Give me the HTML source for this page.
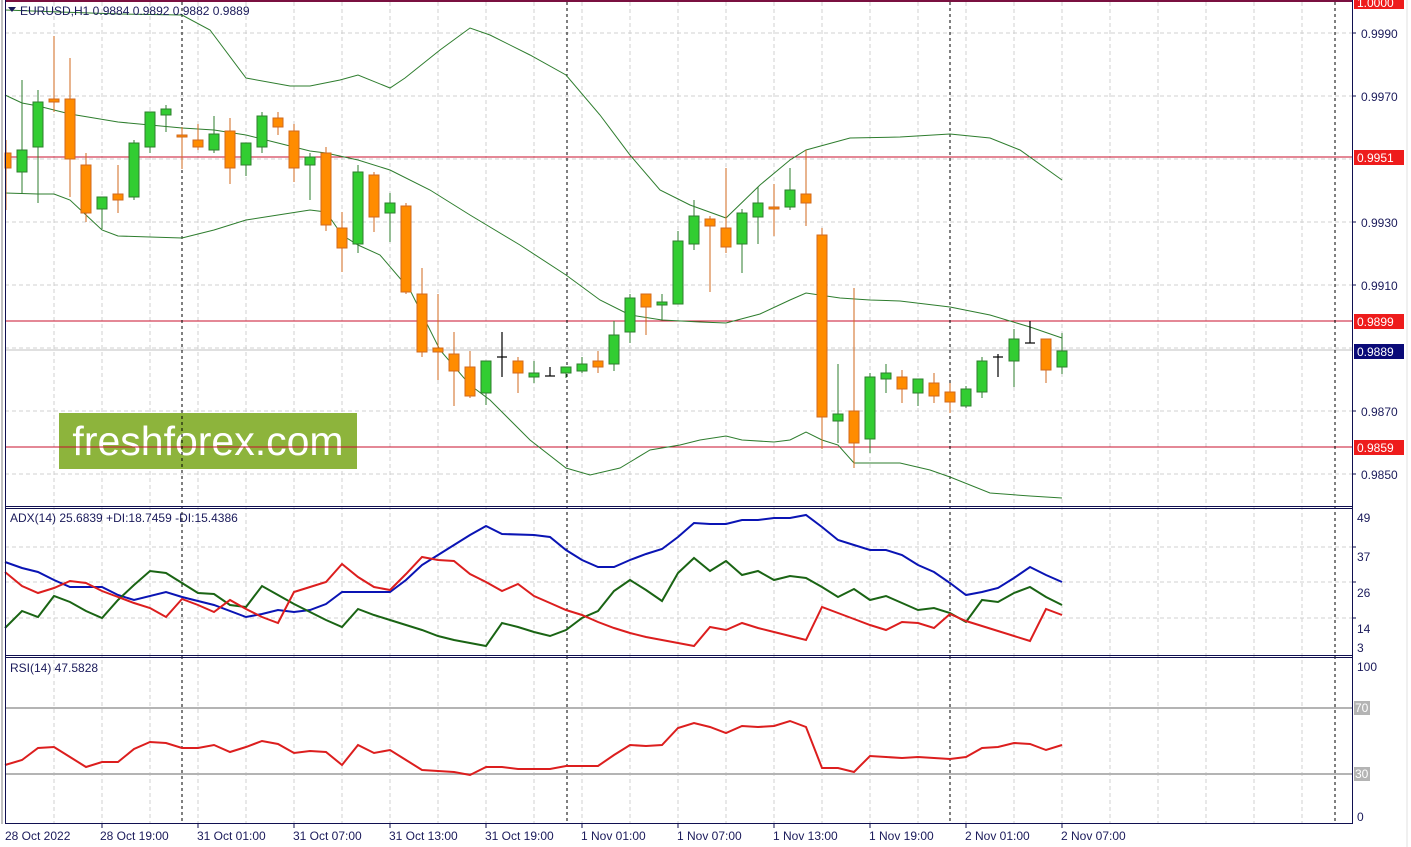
<!DOCTYPE html>
<html><head><meta charset="utf-8"><style>
html,body{margin:0;padding:0;background:#fff;}
svg{display:block;font-family:"Liberation Sans",sans-serif;}
.g line{stroke:#2e7d2e;stroke-width:1}
.g rect{fill:#32cd32;stroke:#2e7d2e;stroke-width:1}
.o line{stroke:#d2691e;stroke-width:1}
.o rect{fill:#ff8c00;stroke:#d2691e;stroke-width:1}
.k line{stroke:#000;stroke-width:1.2}
.ax{fill:#1a1a5a;font-size:12px}
</style></head><body>
<svg width="1411" height="847" viewBox="0 0 1411 847">
<rect width="1411" height="847" fill="#fff"/>
<g stroke="#d0d0d0" stroke-dasharray="4,3" stroke-width="1">
<line x1="5" y1="33" x2="1352" y2="33"/><line x1="5" y1="96" x2="1352" y2="96"/><line x1="5" y1="159" x2="1352" y2="159"/><line x1="5" y1="222" x2="1352" y2="222"/><line x1="5" y1="285" x2="1352" y2="285"/><line x1="5" y1="348" x2="1352" y2="348"/><line x1="5" y1="411" x2="1352" y2="411"/><line x1="5" y1="474" x2="1352" y2="474"/>
<line x1="5" y1="547" x2="1352" y2="547"/><line x1="5" y1="582" x2="1352" y2="582"/><line x1="5" y1="618" x2="1352" y2="618"/>
</g>
<g stroke="#d0d0d0" stroke-dasharray="4,3" stroke-width="1">
<line x1="54" y1="2" x2="54" y2="823"/><line x1="102" y1="2" x2="102" y2="823"/><line x1="150" y1="2" x2="150" y2="823"/><line x1="198" y1="2" x2="198" y2="823"/><line x1="246" y1="2" x2="246" y2="823"/><line x1="294" y1="2" x2="294" y2="823"/><line x1="342" y1="2" x2="342" y2="823"/><line x1="390" y1="2" x2="390" y2="823"/><line x1="438" y1="2" x2="438" y2="823"/><line x1="486" y1="2" x2="486" y2="823"/><line x1="534" y1="2" x2="534" y2="823"/><line x1="582" y1="2" x2="582" y2="823"/><line x1="630" y1="2" x2="630" y2="823"/><line x1="678" y1="2" x2="678" y2="823"/><line x1="726" y1="2" x2="726" y2="823"/><line x1="774" y1="2" x2="774" y2="823"/><line x1="822" y1="2" x2="822" y2="823"/><line x1="870" y1="2" x2="870" y2="823"/><line x1="918" y1="2" x2="918" y2="823"/><line x1="966" y1="2" x2="966" y2="823"/><line x1="1014" y1="2" x2="1014" y2="823"/><line x1="1062" y1="2" x2="1062" y2="823"/><line x1="1110" y1="2" x2="1110" y2="823"/><line x1="1158" y1="2" x2="1158" y2="823"/><line x1="1206" y1="2" x2="1206" y2="823"/><line x1="1254" y1="2" x2="1254" y2="823"/><line x1="1302" y1="2" x2="1302" y2="823"/>
</g>
<rect x="59" y="413" width="298" height="56" fill="#8db43c"/>
<text x="208" y="455" text-anchor="middle" fill="#fff" font-size="41" font-family="'Liberation Sans',sans-serif">freshforex.com</text>
<line x1="5" y1="350" x2="1352" y2="350" stroke="#c0c0c0"/>
<g stroke="#c8102e" stroke-width="1"><line x1="5" y1="157" x2="1352" y2="157"/><line x1="5" y1="321" x2="1352" y2="321"/><line x1="5" y1="447" x2="1352" y2="447"/></g>
<line x1="5" y1="1" x2="1352" y2="1" stroke="#7a1040" stroke-width="2"/>
<g stroke="#000" stroke-dasharray="3,3" stroke-width="1"><line x1="182" y1="2" x2="182" y2="823"/><line x1="567" y1="2" x2="567" y2="823"/><line x1="950" y1="2" x2="950" y2="823"/><line x1="1335" y1="2" x2="1335" y2="823"/></g>
<g fill="none" stroke="#2e7d2e" stroke-width="1">
<polyline points="5,10 60,12 120,14 182,15 210,30 246,78 290,86 310,86 340,80 358,75 390,88 405,78 440,50 470,28 490,35 530,55 566,75 600,115 630,155 660,190 690,205 726,218 760,185 790,160 806,150 850,138 900,137 950,134 990,138 1020,150 1062,180"/>
<polyline points="5,95 22,103 38,106 70,114 118,122 150,125 182,128 214,130 246,135 278,143 310,151 326,153 358,160 390,170 430,190 470,215 520,245 566,275 600,300 630,315 662,320 700,322 726,323 760,314 790,300 806,293 840,298 870,300 900,301 950,307 990,315 1030,327 1062,338"/>
<polyline points="5,193 38,194 54,194 70,200 86,215 102,230 118,236 150,237 182,238 214,230 246,220 278,215 310,210 326,212 342,235 358,245 380,255 410,290 440,350 470,385 490,400 530,440 566,468 590,475 620,468 650,450 680,445 700,440 726,436 742,440 774,442 790,440 806,432 822,440 838,445 854,463 900,463 930,470 950,477 990,493 1030,496 1062,498"/>
</g>
<g class="o">
<line x1="6" y1="140" x2="6" y2="210"/><rect x="5" y="153" width="6" height="15"/>
<line x1="54" y1="36" x2="54" y2="112"/><rect x="49" y="99" width="10" height="3"/>
<line x1="70" y1="58" x2="70" y2="197"/><rect x="65" y="99" width="10" height="60"/>
<line x1="86" y1="153" x2="86" y2="222"/><rect x="81" y="165" width="10" height="48"/>
<line x1="118" y1="165" x2="118" y2="213"/><rect x="113" y="194" width="10" height="6"/>
<line x1="182" y1="127" x2="182" y2="169"/><rect x="177" y="135" width="10" height="2"/>
<line x1="198" y1="124" x2="198" y2="150"/><rect x="193" y="140" width="10" height="7"/>
<line x1="230" y1="118" x2="230" y2="184"/><rect x="225" y="131" width="10" height="37"/>
<line x1="278" y1="112" x2="278" y2="135"/><rect x="273" y="118" width="10" height="9"/>
<line x1="294" y1="124" x2="294" y2="182"/><rect x="289" y="131" width="10" height="37"/>
<line x1="326" y1="147" x2="326" y2="231"/><rect x="321" y="153" width="10" height="72"/>
<line x1="342" y1="212" x2="342" y2="272"/><rect x="337" y="228" width="10" height="20"/>
<line x1="374" y1="172" x2="374" y2="232"/><rect x="369" y="175" width="10" height="42"/>
<line x1="406" y1="203" x2="406" y2="294"/><rect x="401" y="206" width="10" height="86"/>
<line x1="422" y1="268" x2="422" y2="357"/><rect x="417" y="294" width="10" height="58"/>
<line x1="438" y1="294" x2="438" y2="380"/><rect x="433" y="348" width="10" height="4"/>
<line x1="454" y1="332" x2="454" y2="406"/><rect x="449" y="354" width="10" height="17"/>
<line x1="470" y1="351" x2="470" y2="398"/><rect x="465" y="367" width="10" height="29"/>
<line x1="518" y1="357" x2="518" y2="393"/><rect x="513" y="361" width="10" height="12"/>
<line x1="598" y1="351" x2="598" y2="373"/><rect x="593" y="361" width="10" height="6"/>
<line x1="646" y1="294" x2="646" y2="335"/><rect x="641" y="294" width="10" height="13"/>
<line x1="710" y1="216" x2="710" y2="292"/><rect x="705" y="219" width="10" height="7"/>
<line x1="726" y1="168" x2="726" y2="253"/><rect x="721" y="228" width="10" height="19"/>
<line x1="774" y1="184" x2="774" y2="236"/><rect x="769" y="207" width="10" height="2"/>
<line x1="806" y1="150" x2="806" y2="226"/><rect x="801" y="194" width="10" height="9"/>
<line x1="822" y1="228" x2="822" y2="449"/><rect x="817" y="235" width="10" height="182"/>
<line x1="854" y1="288" x2="854" y2="468"/><rect x="849" y="411" width="10" height="32"/>
<line x1="902" y1="370" x2="902" y2="403"/><rect x="897" y="377" width="10" height="12"/>
<line x1="934" y1="373" x2="934" y2="403"/><rect x="929" y="383" width="10" height="13"/>
<line x1="950" y1="383" x2="950" y2="413"/><rect x="945" y="392" width="10" height="10"/>
<line x1="1046" y1="339" x2="1046" y2="383"/><rect x="1041" y="339" width="10" height="31"/>
</g>
<g class="g">
<line x1="22" y1="80" x2="22" y2="194"/><rect x="17" y="150" width="10" height="22"/>
<line x1="38" y1="90" x2="38" y2="203"/><rect x="33" y="102" width="10" height="45"/>
<line x1="102" y1="197" x2="102" y2="229"/><rect x="97" y="197" width="10" height="12"/>
<line x1="134" y1="140" x2="134" y2="200"/><rect x="129" y="143" width="10" height="54"/>
<line x1="150" y1="112" x2="150" y2="153"/><rect x="145" y="112" width="10" height="35"/>
<line x1="166" y1="105" x2="166" y2="132"/><rect x="161" y="109" width="10" height="6"/>
<line x1="214" y1="116" x2="214" y2="153"/><rect x="209" y="134" width="10" height="16"/>
<line x1="246" y1="143" x2="246" y2="176"/><rect x="241" y="143" width="10" height="22"/>
<line x1="262" y1="112" x2="262" y2="153"/><rect x="257" y="116" width="10" height="31"/>
<line x1="310" y1="153" x2="310" y2="200"/><rect x="305" y="157" width="10" height="8"/>
<line x1="358" y1="165" x2="358" y2="253"/><rect x="353" y="172" width="10" height="72"/>
<line x1="390" y1="193" x2="390" y2="242"/><rect x="385" y="203" width="10" height="10"/>
<line x1="486" y1="361" x2="486" y2="405"/><rect x="481" y="361" width="10" height="32"/>
<line x1="534" y1="361" x2="534" y2="383"/><rect x="529" y="373" width="10" height="4"/>
<line x1="566" y1="367" x2="566" y2="378"/><rect x="561" y="367" width="10" height="6"/>
<line x1="582" y1="357" x2="582" y2="373"/><rect x="577" y="364" width="10" height="7"/>
<line x1="614" y1="321" x2="614" y2="371"/><rect x="609" y="335" width="10" height="29"/>
<line x1="630" y1="294" x2="630" y2="343"/><rect x="625" y="298" width="10" height="34"/>
<line x1="662" y1="294" x2="662" y2="320"/><rect x="657" y="302" width="10" height="3"/>
<line x1="678" y1="231" x2="678" y2="304"/><rect x="673" y="241" width="10" height="63"/>
<line x1="694" y1="200" x2="694" y2="250"/><rect x="689" y="216" width="10" height="28"/>
<line x1="742" y1="209" x2="742" y2="273"/><rect x="737" y="213" width="10" height="31"/>
<line x1="758" y1="187" x2="758" y2="244"/><rect x="753" y="203" width="10" height="14"/>
<line x1="790" y1="168" x2="790" y2="210"/><rect x="785" y="190" width="10" height="17"/>
<line x1="838" y1="364" x2="838" y2="443"/><rect x="833" y="414" width="10" height="7"/>
<line x1="870" y1="373" x2="870" y2="453"/><rect x="865" y="377" width="10" height="62"/>
<line x1="886" y1="364" x2="886" y2="393"/><rect x="881" y="373" width="10" height="6"/>
<line x1="918" y1="379" x2="918" y2="406"/><rect x="913" y="379" width="10" height="14"/>
<line x1="966" y1="386" x2="966" y2="408"/><rect x="961" y="389" width="10" height="17"/>
<line x1="982" y1="357" x2="982" y2="398"/><rect x="977" y="361" width="10" height="31"/>
<line x1="1014" y1="329" x2="1014" y2="387"/><rect x="1009" y="339" width="10" height="22"/>
<line x1="1062" y1="333" x2="1062" y2="374"/><rect x="1057" y="351" width="10" height="16"/>
</g>
<g class="k">
<line x1="502" y1="332" x2="502" y2="377"/><line x1="497" y1="357" x2="507" y2="357"/>
<line x1="550" y1="367" x2="550" y2="376"/><line x1="545" y1="376" x2="555" y2="376"/>
<line x1="998" y1="354" x2="998" y2="377"/><line x1="993" y1="357" x2="1003" y2="357"/>
<line x1="1030" y1="321" x2="1030" y2="343"/><line x1="1025" y1="343" x2="1035" y2="343"/>
</g>
<text x="20" y="15" class="ax" fill="#1a1a5a">EURUSD,H1  0.9884 0.9892 0.9882 0.9889</text>
<polygon points="8,7 16,7 12,12" fill="#1a1a5a"/>
<g fill="none" stroke-width="2">
<polyline stroke="#0a14b4" points="5,562 22,568 38,572 54,580 70,587 102,587 118,595 134,600 166,592 182,597 214,605 246,617 262,614 278,610 294,612 310,610 326,604 342,592 390,592 406,580 422,565 438,555 454,545 470,535 486,526 502,534 534,535 550,537 566,550 582,560 598,567 614,567 630,560 646,554 662,549 678,537 694,523 710,524 726,524 742,520 758,520 774,518 790,518 806,515 822,527 838,540 854,545 870,550 886,550 902,555 918,565 934,572 950,583 966,595 982,592 998,588 1014,578 1030,567 1046,575 1062,582"/>
<polyline stroke="#1a6414" points="5,628 22,611 38,617 54,596 70,602 86,611 102,618 118,600 134,585 150,571 166,573 182,583 198,593 214,594 230,605 246,607 262,586 278,595 294,604 310,612 326,620 342,627 358,609 374,615 390,620 406,625 422,630 438,636 454,640 470,643 486,646 502,623 518,627 534,632 550,636 566,630 582,618 598,611 614,591 630,580 646,590 662,601 678,573 694,558 710,571 726,561 742,575 758,571 774,580 790,576 806,578 822,587 838,597 854,589 870,600 886,596 902,603 918,610 934,608 950,613 966,622 982,600 998,602 1014,593 1030,587 1046,597 1062,605"/>
<polyline stroke="#dc1e1e" points="5,572 22,586 38,593 54,588 70,581 86,583 102,591 118,597 134,603 150,608 166,617 182,599 198,605 214,612 230,600 246,609 262,617 278,623 294,592 310,587 326,582 342,564 358,577 374,587 390,590 406,574 422,557 438,560 454,561 470,574 486,582 502,591 518,584 534,596 550,603 566,610 582,615 598,622 614,628 630,633 646,637 662,640 678,643 694,646 710,627 726,630 742,623 758,628 774,632 790,636 806,640 822,607 838,613 854,619 870,625 886,630 902,622 918,623 934,628 950,614 966,621 982,626 998,631 1014,636 1030,641 1046,609 1062,615"/>
</g>
<text x="10" y="522" class="ax">ADX(14) 25.6839 +DI:18.7459 -DI:15.4386</text>
<line x1="5" y1="708" x2="1352" y2="708" stroke="#b4b4b4" stroke-width="2"/>
<line x1="5" y1="774" x2="1352" y2="774" stroke="#b4b4b4" stroke-width="2"/>
<polyline fill="none" stroke="#dc1e1e" stroke-width="2" points="5,765 22,760 38,748 54,747 70,757 86,767 102,762 118,762 134,749 150,742 166,743 182,748 198,748 214,745 230,752 246,747 262,741 278,744 294,753 310,751 326,752 342,765 358,745 374,753 390,750 406,760 422,770 438,771 454,772 470,775 486,767 502,767 518,769 534,769 550,769 566,766 582,766 598,766 614,755 630,745 646,746 662,745 678,728 694,723 710,727 726,733 742,726 758,727 774,726 790,721 806,727 822,768 838,768 854,772 870,756 886,757 902,758 918,757 934,758 950,759 966,757 982,748 998,747 1014,743 1030,744 1046,750 1062,745"/>
<text x="10" y="672" class="ax">RSI(14) 47.5828</text>
<g fill="none" stroke="#101050" stroke-width="1">
<line x1="5.5" y1="0" x2="5.5" y2="824"/>
<line x1="1352.5" y1="0" x2="1352.5" y2="824"/>
<line x1="5" y1="506.5" x2="1353" y2="506.5"/><line x1="5" y1="508.5" x2="1353" y2="508.5"/>
<line x1="5" y1="655.5" x2="1353" y2="655.5"/><line x1="5" y1="657.5" x2="1353" y2="657.5"/>
<line x1="5" y1="823.5" x2="1353" y2="823.5"/>
</g>
<line x1="2" y1="0" x2="2" y2="824" stroke="#808080"/>
<g stroke="#101050"><line x1="1352" y1="33" x2="1356" y2="33"/><line x1="1352" y1="96" x2="1356" y2="96"/><line x1="1352" y1="222" x2="1356" y2="222"/><line x1="1352" y1="285" x2="1356" y2="285"/><line x1="1352" y1="411" x2="1356" y2="411"/><line x1="1352" y1="474" x2="1356" y2="474"/><line x1="1352" y1="547" x2="1356" y2="547"/><line x1="1352" y1="582" x2="1356" y2="582"/><line x1="1352" y1="618" x2="1356" y2="618"/></g>
<g class="ax">
<text x="1361" y="38">0.9990</text><text x="1361" y="101">0.9970</text><text x="1361" y="227">0.9930</text><text x="1361" y="290">0.9910</text><text x="1361" y="416">0.9870</text><text x="1361" y="479">0.9850</text>
<text x="1357" y="522">49</text><text x="1357" y="561">37</text><text x="1357" y="597">26</text><text x="1357" y="633">14</text><text x="1357" y="652">3</text>
<text x="1357" y="671">100</text><text x="1357" y="821">0</text>
</g>
<rect x="1354" y="-4" width="50" height="13" fill="#ee1c1c"/><text x="1357" y="7" fill="#fff" font-size="12">1.0000</text>
<rect x="1354" y="150" width="50" height="15" fill="#ee1c1c"/><text x="1357" y="162" fill="#fff" font-size="12">0.9951</text>
<rect x="1354" y="314" width="50" height="15" fill="#ee1c1c"/><text x="1357" y="326" fill="#fff" font-size="12">0.9899</text>
<rect x="1354" y="344" width="50" height="15" fill="#0a0a78"/><text x="1357" y="356" fill="#fff" font-size="12">0.9889</text>
<rect x="1354" y="440" width="50" height="15" fill="#ee1c1c"/><text x="1357" y="452" fill="#fff" font-size="12">0.9859</text>
<rect x="1354" y="701" width="16" height="14" fill="#b4b4b4"/><text x="1355" y="712" fill="#fff" font-size="12">70</text>
<rect x="1354" y="767" width="16" height="14" fill="#b4b4b4"/><text x="1355" y="778" fill="#fff" font-size="12">30</text>
<line x1="1407" y1="0" x2="1407" y2="847" stroke="#e0e0e0"/>
<g stroke="#101050"><line x1="102" y1="824" x2="102" y2="828"/><line x1="198" y1="824" x2="198" y2="828"/><line x1="294" y1="824" x2="294" y2="828"/><line x1="390" y1="824" x2="390" y2="828"/><line x1="486" y1="824" x2="486" y2="828"/><line x1="582" y1="824" x2="582" y2="828"/><line x1="678" y1="824" x2="678" y2="828"/><line x1="774" y1="824" x2="774" y2="828"/><line x1="870" y1="824" x2="870" y2="828"/><line x1="966" y1="824" x2="966" y2="828"/><line x1="1062" y1="824" x2="1062" y2="828"/></g>
<g class="ax">
<text x="5" y="840">28 Oct 2022</text><text x="100" y="840">28 Oct 19:00</text><text x="197" y="840">31 Oct 01:00</text><text x="293" y="840">31 Oct 07:00</text><text x="389" y="840">31 Oct 13:00</text><text x="485" y="840">31 Oct 19:00</text><text x="581" y="840">1 Nov 01:00</text><text x="677" y="840">1 Nov 07:00</text><text x="773" y="840">1 Nov 13:00</text><text x="869" y="840">1 Nov 19:00</text><text x="965" y="840">2 Nov 01:00</text><text x="1061" y="840">2 Nov 07:00</text>
</g>
</svg>
</body></html>
